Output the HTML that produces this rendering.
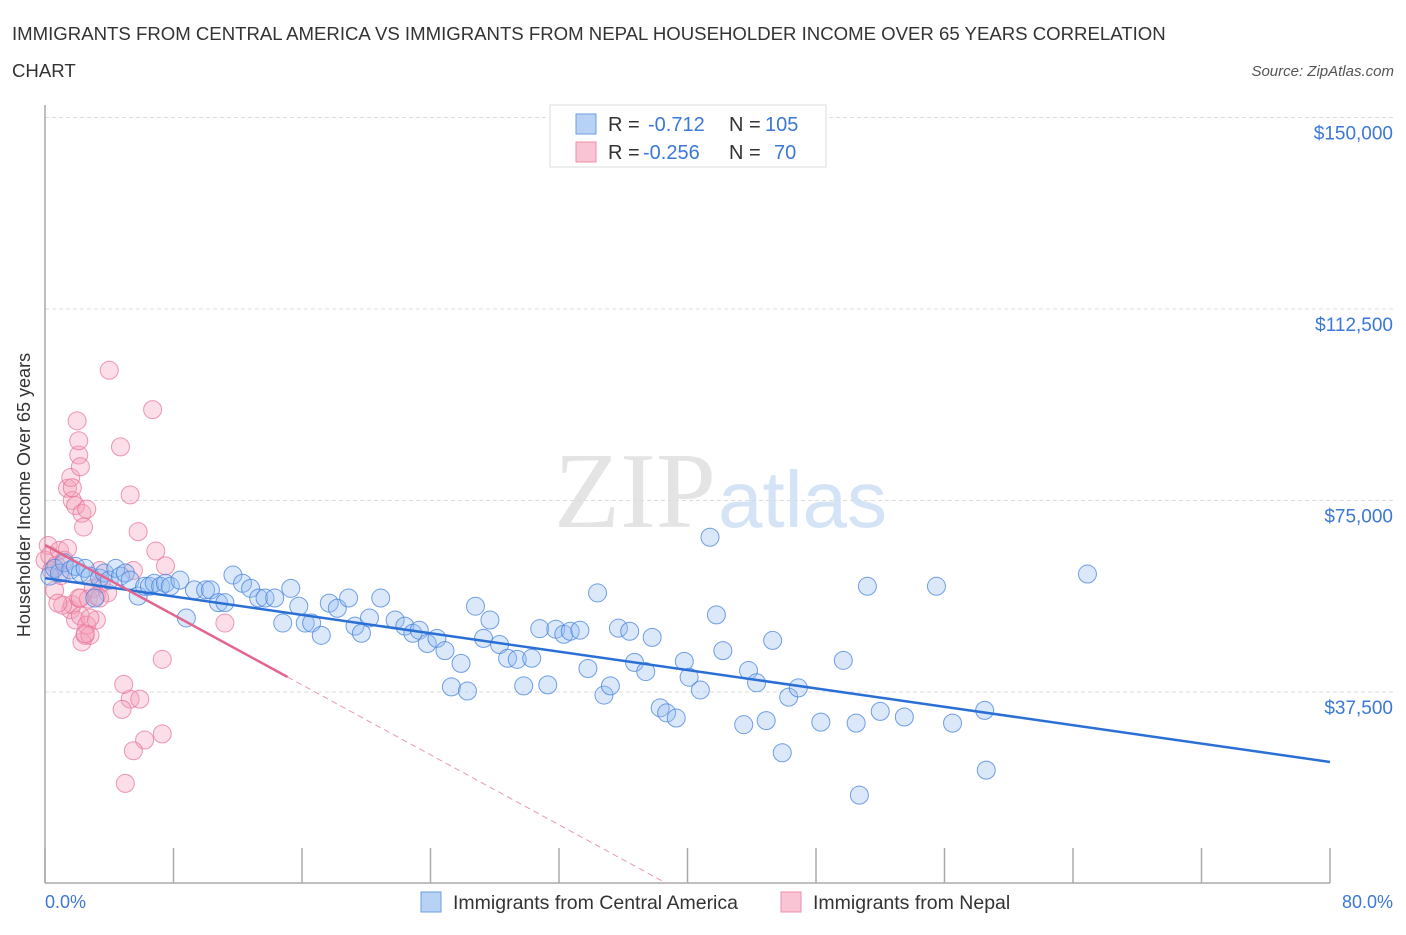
<!DOCTYPE html>
<html><head><meta charset="utf-8"><style>
body{margin:0;background:#fff;font-family:"Liberation Sans",sans-serif;}
</style></head><body>
<svg width="1406" height="930" xmlns="http://www.w3.org/2000/svg" font-family="Liberation Sans, sans-serif">
<text x="12" y="40" font-size="18.6" fill="#333">IMMIGRANTS FROM CENTRAL AMERICA VS IMMIGRANTS FROM NEPAL HOUSEHOLDER INCOME OVER 65 YEARS CORRELATION</text>
<text x="12" y="77" font-size="18.6" fill="#333">CHART</text>
<text x="1394" y="76" font-size="15" font-style="italic" fill="#555" text-anchor="end">Source: ZipAtlas.com</text>
<text x="716" y="527" font-size="108" font-family="Liberation Serif, serif" fill="#e4e4e4" text-anchor="end">ZIP</text>
<text x="718" y="527" font-size="80" fill="#d4e3f5">atlas</text>
<g id="grid"></g>
<g id="axes"></g>
<g id="pts"></g>
<g id="lines"></g>
<text x="30" y="495" font-size="18" fill="#333" text-anchor="middle" transform="rotate(-90 30 495)">Householder Income Over 65 years</text>
<text x="45" y="908" font-size="18" fill="#3b78d8">0.0%</text>
<text x="1393" y="908" font-size="18" fill="#3b78d8" text-anchor="end">80.0%</text>
<g>
<rect x="550" y="105" width="276" height="62" fill="#fff" stroke="#ddd"/>
<rect x="576" y="114" width="20" height="20" fill="#b7d2f5" stroke="#6b9ee0"/>
<rect x="576" y="142" width="20" height="20" fill="#f9c5d4" stroke="#ec8ea9"/>
<text x="608" y="131" font-size="20" fill="#333">R =</text>
<text x="648" y="131" font-size="20" fill="#3b78d8">-0.712</text>
<text x="729" y="131" font-size="20" fill="#333">N =</text>
<text x="765" y="131" font-size="20" fill="#3b78d8">105</text>
<text x="608" y="159" font-size="20" fill="#333">R =</text>
<text x="643" y="159" font-size="20" fill="#3b78d8">-0.256</text>
<text x="729" y="159" font-size="20" fill="#333">N =</text>
<text x="774" y="159" font-size="20" fill="#3b78d8">70</text>
</g>
<g>
<rect x="421" y="892" width="20" height="20" fill="#b7d2f5" stroke="#6b9ee0"/>
<text x="453" y="909" font-size="19.5" fill="#333">Immigrants from Central America</text>
<rect x="781" y="892" width="20" height="20" fill="#f9c5d4" stroke="#ec8ea9"/>
<text x="813" y="909" font-size="19.5" fill="#333">Immigrants from Nepal</text>
</g>
</svg>
<script>
const yTicks=[37500,75000,112500,150000];
const yTickLabels=["$37,500","$75,000","$112,500","$150,000"];
const xTicks=[0,8,16,24,32,40,48,56,64,72,80];
const blueX=[0.3,0.6,0.9,1.2,1.6,1.9,2.2,2.5,2.8,3.1,3.4,3.7,4.0,4.4,4.7,5.0,5.3,5.8,6.2,6.5,6.8,7.2,7.5,7.8,8.4,8.8,9.3,10.0,10.3,10.8,11.2,11.7,12.3,12.8,13.3,13.7,14.3,14.8,15.3,15.8,16.2,16.6,17.2,17.7,18.2,18.9,19.3,19.7,20.2,20.9,21.8,22.4,22.9,23.3,23.8,24.4,24.9,25.3,25.9,26.3,26.8,27.3,27.7,28.3,28.8,29.4,29.8,30.3,30.8,31.3,31.8,32.3,32.7,33.3,33.8,34.4,34.8,35.2,35.7,36.4,36.7,37.4,37.8,38.3,38.7,39.3,39.8,40.1,40.8,41.4,41.8,42.2,43.5,43.8,44.3,44.9,45.3,45.9,46.3,46.9,48.3,49.7,50.5,50.7,51.2,52.0,53.5,55.5,56.5,58.5,58.6,64.9];
const blueY=[60200,61700,60800,62800,61400,62100,60800,61700,60200,55900,59800,60800,59400,61700,60200,60800,59400,56300,58200,58200,58800,58200,58800,58200,59400,52000,57500,57500,57500,55000,55000,60400,58800,57800,55900,55900,55900,51000,57800,54300,51000,51000,48600,54900,53900,55900,50400,49000,52000,55900,51600,50400,49000,49600,47000,48000,45600,38500,43100,37700,54300,48000,51600,46800,44100,43900,38700,44100,49900,38900,49800,48800,49400,49600,42100,56900,36900,38700,50000,49400,43300,41500,48200,34400,33400,32400,43500,40400,37900,67800,52600,45600,31100,41700,39300,31900,47600,25600,36500,38300,31600,43700,31400,17300,58200,33700,32600,58200,31400,33900,22200,60600];
const pinkX=[0.0,0.2,0.3,0.4,0.6,0.7,0.9,1.0,1.2,1.4,1.6,1.7,1.9,2.1,2.2,2.3,2.5,2.6,2.7,2.8,3.0,3.2,3.4,1.4,1.6,1.7,1.9,2.1,2.0,2.1,2.2,1.7,2.3,2.4,2.6,4.0,4.7,5.3,5.8,6.7,6.9,7.5,5.5,5.3,5.9,4.8,4.9,6.2,7.3,5.5,7.3,5.0,3.9,3.5,3.2,2.8,2.5,11.2,3.4,2.2,1.1,0.8];
const pinkY=[63300,66200,64200,61300,57400,62300,65200,60300,63300,65600,53600,54600,51600,55900,52400,47300,48600,50600,55700,48600,57800,56300,61300,77400,79500,75000,74000,83900,90600,86700,81600,77500,72500,69800,73300,100500,85500,76100,68900,92800,65100,62200,61300,36100,36100,34100,39000,28100,43900,26000,29300,19600,56900,58800,51600,52000,48900,51000,55900,55900,54500,54900];
const blueFit=[59800,23800];   // at x=0%, 80%
const pinkFit=[66300,-70700];  // at x=0%, 80%
const pinkSolidEnd=15.1;

const NS="http://www.w3.org/2000/svg";
const X=v=>45+v/80*1285;
const Y=v=>883.5-v/37500*191.5;
function mk(tag,attrs,parent){const e=document.createElementNS(NS,tag);for(const k in attrs)e.setAttribute(k,attrs[k]);document.getElementById(parent).appendChild(e);return e;}
yTicks.forEach((t,i)=>{
  const l=mk('line',{x1:45,x2:1393,y1:Y(t),y2:Y(t),stroke:'#ddd','stroke-dasharray':'4,3'},'grid');
  
  
  const tx=mk('text',{x:1393,y:Y(t)+22,'font-size':19,fill:'#3b78d8','text-anchor':'end'},'grid');
  tx.textContent=yTickLabels[i];
  
  
});
const ax=mk('line',{x1:45,x2:45,y1:105,y2:883,stroke:'#aaa','stroke-width':1.5},'axes');


const bx=mk('line',{x1:45,x2:1330,y1:883,y2:883,stroke:'#aaa','stroke-width':1.5},'axes');


xTicks.forEach(t=>{
  const l=mk('line',{x1:X(t),x2:X(t),y1:848,y2:883,stroke:'#aaa','stroke-width':1.5},'axes');
  
  
});
pinkX.forEach((x,i)=>{
  const c=mk('circle',{cx:X(x),cy:Y(pinkY[i]),r:9,fill:'rgba(244,160,185,0.35)',stroke:'rgba(232,110,150,0.7)','stroke-width':1},'pts');
  
  
});
blueX.forEach((x,i)=>{
  const c=mk('circle',{cx:X(x),cy:Y(blueY[i]),r:9,fill:'rgba(150,190,240,0.35)',stroke:'rgba(70,130,220,0.75)','stroke-width':1},'pts');
  
  
});
const bf=mk('line',{x1:X(0),y1:Y(blueFit[0]),x2:X(80),y2:Y(blueFit[1]),stroke:'#2a6fd6','stroke-width':2.5},'lines');


const pv=x=>pinkFit[0]+(pinkFit[1]-pinkFit[0])*x/80;
const ps=mk('line',{x1:X(0),y1:Y(pv(0)),x2:X(pinkSolidEnd),y2:Y(pv(pinkSolidEnd)),stroke:'#e2658f','stroke-width':2.5},'lines');


const xEnd=80*pinkFit[0]/(pinkFit[0]-pinkFit[1]);
const pd=mk('line',{x1:X(pinkSolidEnd),y1:Y(pv(pinkSolidEnd)),x2:X(xEnd),y2:Y(0),stroke:'#e89ab3','stroke-width':1,'stroke-dasharray':'6,4'},'lines');


</script>
</body></html>
